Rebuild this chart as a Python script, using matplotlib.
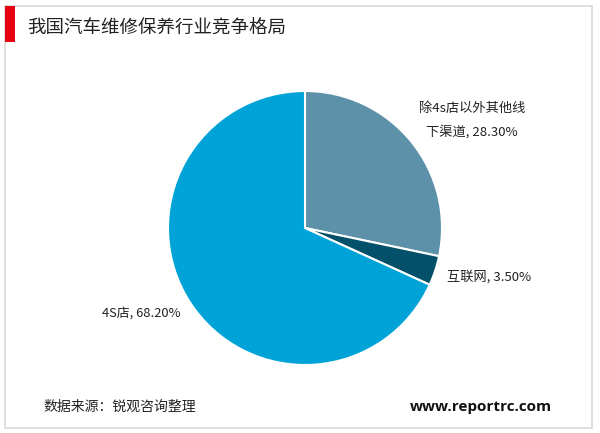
import matplotlib
matplotlib.use("Agg")
import matplotlib.pyplot as plt
from matplotlib.patches import Rectangle

plt.rcParams['font.family'] = ['Noto Sans CJK SC', 'DejaVu Sans']

# data
title = '我国汽车维修保养行业竞争格局'
labels = ['除4s店以外其他线\n下渠道, 28.30%', '互联网, 3.50%', '4S店, 68.20%']
shares = [28.30, 3.50, 68.20]
colors = ['#5d91a9', '#03506a', '#00a3d8']
source = '数据来源：锐观咨询整理'
site = 'www.reportrc.com'

H = 433
fig = plt.figure(figsize=(6, 4.33), dpi=100)
ax = fig.add_axes([0, 0, 1, 1])

# pie first (it resets limits), y measured from the top of the picture
ax.pie(shares, colors=colors, startangle=90, counterclock=False,
       center=(305, H - 228), radius=137, frame=True,
       wedgeprops=dict(edgecolor='white', linewidth=1.5))

ax.set_xlim(0, 600)
ax.set_ylim(0, H)
ax.set_aspect('equal')
ax.axis('off')

# frame and red title marker
ax.add_patch(Rectangle((5, H - 428), 587, 422, fill=False, edgecolor='#d9d9d9', lw=1.2))
ax.add_patch(Rectangle((5, H - 42), 10, 36, facecolor='#e60012', edgecolor='none'))
ax.text(27, H - 29, title, fontsize=13.3, va='center', ha='left', color='#222222')

ax.text(472, H - 120, labels[0], fontsize=9.5, ha='center', va='center',
        multialignment='center', linespacing=1.9, color='#222222')
ax.text(447, H - 277, labels[1], fontsize=9.5, ha='left', va='center', color='#222222')
ax.text(102, H - 313, labels[2], fontsize=9.3, ha='left', va='center', color='#222222')

ax.text(43, H - 407, source, fontsize=10, ha='left', va='center', color='#222222')
ax.text(552, H - 407, site, fontsize=11, ha='right', va='center', fontweight='bold',
        family=['Open Sans', 'DejaVu Sans'], color='#111111')

fig.savefig('out.png', dpi=100)
